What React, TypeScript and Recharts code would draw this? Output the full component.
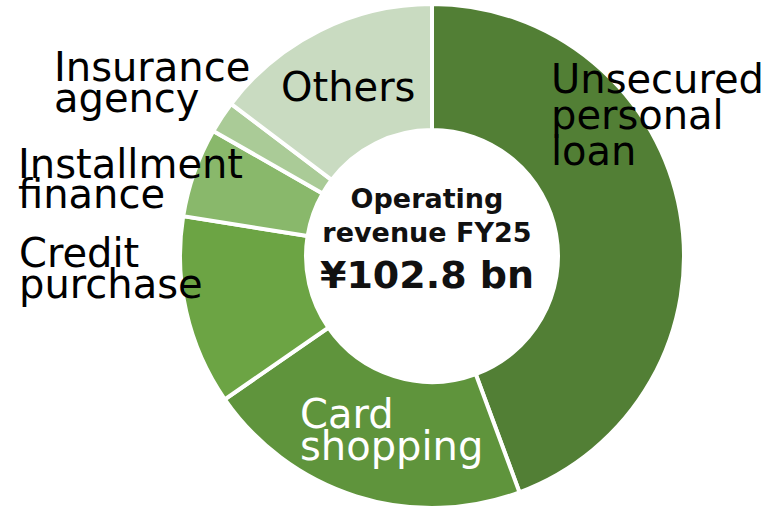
import { PieChart, Pie, Cell } from 'recharts';

const categories = [
  'Unsecured personal loan',
  'Card shopping',
  'Credit purchase',
  'Installment finance',
  'Insurance agency',
  'Others'
];
const revenue = [45.6, 21.6, 12.5, 5.9, 2.1, 15.1];
const sliceColors = ['#527f35', '#5f943c', '#6ca444', '#89b86b', '#aacb97', '#c9dbc1'];

// label layout: lines, left x, first baseline, line gap, fill
const labelLayout = [
  { lines: ['Unsecured', 'personal', 'loan'], x: 551, y: 93, gap: 36, fill: '#000' },
  { lines: ['Card', 'shopping'], x: 300, y: 428, gap: 32, fill: '#fff' },
  { lines: ['Credit', 'purchase'], x: 19, y: 267, gap: 31, fill: '#000' },
  { lines: ['Installment', 'finance'], x: 18, y: 178, gap: 30, fill: '#000' },
  { lines: ['Insurance', 'agency'], x: 54, y: 81, gap: 31, fill: '#000' },
  { lines: ['Others'], x: 281, y: 101, gap: 31, fill: '#000' }
];

const data = categories.map((name, i) => ({ name, value: revenue[i] }));
const total = revenue.reduce((a, b) => a + b, 0);

const FONT = '"DejaVu Sans", sans-serif';

export default function App() {
  return (
    <div style={{ position: 'absolute', left: 0, top: 0, width: 776, height: 510, background: '#fff' }}>
      <PieChart width={776} height={510} margin={{ top: 0, right: 0, bottom: 0, left: 0 }}>
        <Pie
          data={data}
          dataKey="value"
          nameKey="name"
          cx={432}
          cy={256}
          innerRadius={126}
          outerRadius={252}
          startAngle={90}
          endAngle={-270}
          stroke="#fff"
          strokeWidth={4}
          labelLine={false}
          label={false}
          isAnimationActive={false}
        >
          {data.map((entry, index) => (
            <Cell key={`cell-${index}`} fill={sliceColors[index]} />
          ))}
        </Pie>
      </PieChart>
      {/* labels drawn on top of the pie layer */}
      <svg
        width={776}
        height={510}
        style={{ position: 'absolute', left: 0, top: 0, pointerEvents: 'none' }}
      >
        {labelLayout.map((l, i) => (
          <text key={`lbl-${i}`} x={l.x} y={l.y} fill={l.fill} fontFamily={FONT} fontSize={40}>
            {l.lines.map((line, j) => (
              <tspan key={j} x={l.x} y={l.y + j * l.gap}>
                {line}
              </tspan>
            ))}
          </text>
        ))}
        <text x={427} y={208} textAnchor="middle" fontFamily={FONT} fontWeight="bold" fontSize={27} fill="#111">
          Operating
        </text>
        <text x={427} y={242} textAnchor="middle" fontFamily={FONT} fontWeight="bold" fontSize={27} fill="#111">
          revenue FY25
        </text>
        <text x={427} y={288} textAnchor="middle" fontFamily={FONT} fontWeight="bold" fontSize={38} fill="#111">
          {`¥${total.toFixed(1)} bn`}
        </text>
      </svg>
    </div>
  );
}
